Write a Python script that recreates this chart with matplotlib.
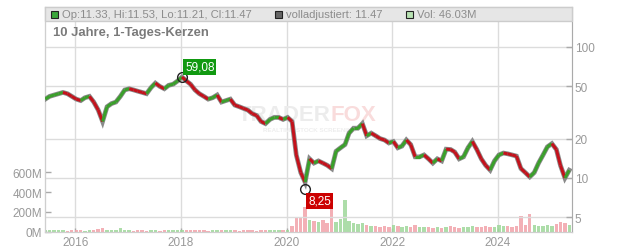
import numpy as np
import pandas as pd
import matplotlib
matplotlib.use('Agg')
import matplotlib.pyplot as plt
import matplotlib.dates as mdates
from matplotlib.collections import LineCollection
from matplotlib.patches import Rectangle

plt.rcParams['font.family'] = ['Liberation Sans', 'DejaVu Sans']

# monthly closes, Jun 2015 .. May 2025
closes = [40, 42, 43, 44, 45, 44, 42, 40, 39, 41, 42, 38, 33, 27, 35, 37, 38, 42, 47,
          48, 47, 46, 45, 44, 49, 53, 50, 48, 51, 52, 55, 59, 55, 52, 47, 44, 42, 40,
          41, 43, 38, 39, 40, 36, 35, 34, 33, 31, 30, 27, 26, 28, 29, 29, 28, 29, 27,
          15, 11, 9.3, 14, 13, 13.5, 13, 12.5, 11.8, 16, 17, 18, 22, 24, 24, 26, 21, 22,
          21, 20, 19.5, 18.5, 19, 17, 17.5, 19.5, 18, 14.5, 14.5, 15, 14, 13, 14, 13.5,
          16.6, 16.5, 15.8, 14, 14.5, 17, 19, 16.5, 14, 12.5, 11.5, 13.5, 15, 15.5,
          15.3, 15, 14.7, 11.8, 11, 10.2, 11, 13, 15, 17.3, 18.3, 16.5, 12.5, 10, 11.47]

# volume in millions
volumes = [20, 18, 25, 20, 18, 15, 20, 22, 18, 15, 20, 25, 35, 40, 25, 20, 18, 45, 22,
           18, 15, 20, 18, 15, 20, 18, 15, 17, 20, 18, 22, 25, 20, 18, 22, 20, 18, 15,
           17, 20, 18, 22, 20, 18, 15, 17, 20, 18, 15, 22, 20, 18, 17, 20, 18, 20, 60,
           140, 150, 250, 120, 110, 100, 120, 90, 240, 100, 130, 320, 110, 90, 80, 90, 70,
           60, 60, 50, 60, 55, 70, 60, 55, 60, 55, 70, 50, 55, 50, 45, 50, 45, 55, 60,
           50, 45, 50, 55, 60, 50, 55, 60, 50, 55, 75, 60, 65, 55, 60, 160, 70, 180, 70,
           60, 65, 70, 60, 80, 100, 90, 70]

dates = pd.date_range('2015-06-01', periods=len(closes), freq='MS') + pd.Timedelta(days=7)

peak_date, peak_val = dates[31], 59.08
low_date, low_val = dates[59], 8.25

header_ohlc = 'Op:11.33, Hi:11.53, Lo:11.21, Cl:11.47'
header_adj = 'volladjustiert: 11.47'
header_vol = 'Vol: 46.03M'
title = '10 Jahre, 1-Tages-Kerzen'

W, H = 632, 253
fig = plt.figure(figsize=(W / 100, H / 100), dpi=100)
L, R, T, B = 45, 572, 8, 233
ax = fig.add_axes([L / W, (H - B) / H, (R - L) / W, (B - T) / H])
axp = ax.twinx()

x = mdates.date2num(dates)
c = np.array(closes, dtype=float)
v = np.array(volumes, dtype=float) * 1e6

# volume bars
up = np.r_[True, c[1:] >= c[:-1]]
vcol = np.where(up, '#9fd89a', '#f2a3aa')
ax.bar(x, v, width=24, color=vcol, alpha=0.85, zorder=2)
ax.set_ylim(0, 2250e6)
ax.set_yticks([0, 200e6, 400e6, 600e6])
ax.set_yticklabels(['0M', '200M', '400M', '600M'])
ax.set_xlim(mdates.datestr2num('2015-06-06'), mdates.datestr2num('2025-05-27'))
ax.xaxis.set_major_locator(mdates.YearLocator(2))
ax.xaxis.set_major_formatter(mdates.DateFormatter('%Y'))
ax.grid(axis='x', color='#dcdcdc', lw=1, zorder=0)
ax.set_axisbelow(True)

# watermark
ax.text((331 - L) / (R - L), 0.524, 'TRADER', transform=ax.transAxes, fontsize=16,
        fontweight='bold', color='#ececec', ha='right', va='center', zorder=1)
ax.text((331 - L) / (R - L), 0.524, 'FOX', transform=ax.transAxes, fontsize=16,
        fontweight='bold', color='#f9dcdc', ha='left', va='center', zorder=1)
ax.text((310 - L) / (R - L), 0.455, 'REALTIME STOCK SCREENING', transform=ax.transAxes,
        fontsize=4.5, fontweight='bold', color='#eeeeee', ha='center', va='center', zorder=1)

# price
axp.set_yscale('log')
axp.plot(x, c, color='#8a8a8a', lw=3.4, zorder=3, solid_joinstyle='miter')
segs = np.stack([np.column_stack([x[:-1], c[:-1]]), np.column_stack([x[1:], c[1:]])], axis=1)
cols = np.where(c[1:] >= c[:-1], '#3aa02a', '#c4121c')
axp.add_collection(LineCollection(segs, colors=cols, linewidths=2.2, zorder=4))
axp.set_ylim(3.87, 202)
axp.set_yticks([5, 10, 20, 50, 100])
axp.set_yticklabels(['5', '10', '20', '50', '100'])
axp.yaxis.set_minor_locator(plt.NullLocator())
axp.grid(axis='y', color='#dcdcdc', lw=1, zorder=0)

for a in (ax, axp):
    a.tick_params(colors='#aaaaaa', labelcolor='#999999', labelsize=8.5, length=4,
                  width=1, direction='in', pad=2)
    for s in a.spines.values():
        s.set_color('#cfcfcf')
axp.spines['right'].set_color('#aaaaaa')
ax.spines['left'].set_color('#aaaaaa')
ax.tick_params(axis='x', length=3, pad=3)

# high / low markers
axp.plot([peak_date, low_date], [peak_val, low_val], 'o', mfc='none', mec='#222222',
         ms=7, mew=1, zorder=6)
axp.annotate('59,08', (peak_date, peak_val), xytext=(3, 4), textcoords='offset pixels',
             ha='left', va='bottom', color='white', fontsize=8.5, zorder=7,
             bbox=dict(boxstyle='square,pad=0.15', fc='#119911', ec='none'))
axp.annotate('8,25', (low_date, low_val), xytext=(3, -6), textcoords='offset pixels',
             ha='left', va='top', color='white', fontsize=8.5, zorder=7,
             bbox=dict(boxstyle='square,pad=0.15', fc='#cc0000', ec='none'))

# header bar
hh = 14 / (B - T)
axp.add_patch(Rectangle((0, 1 - hh), 1, hh, transform=axp.transAxes, fc='#e6e6e6',
                        ec='#cccccc', lw=1, zorder=8, clip_on=False))
def ax_x(px):
    return (px - L) / (R - L)
hy = 1 - hh / 2
for sq, fc, txt in ((51, '#3aa63a', header_ohlc), (275, '#666666', header_adj),
                    (406, '#b8e2b2', header_vol)):
    axp.add_patch(Rectangle((ax_x(sq), hy - 3.5 / (B - T)), 7 / (R - L), 7 / (B - T),
                            transform=axp.transAxes, fc=fc, ec='#222222', lw=0.8,
                            zorder=9, clip_on=False))
    axp.text(ax_x(sq + 11), hy, txt, transform=axp.transAxes, fontsize=8.1,
             color='#8c8c8c', va='center', ha='left', zorder=10)
axp.text(ax_x(53), 1 - 25 / (B - T), title, transform=axp.transAxes, fontsize=9.4,
         fontweight='bold', color='#7a7a7a', va='center', ha='left', zorder=10)

fig.savefig('out.png', dpi=100)
